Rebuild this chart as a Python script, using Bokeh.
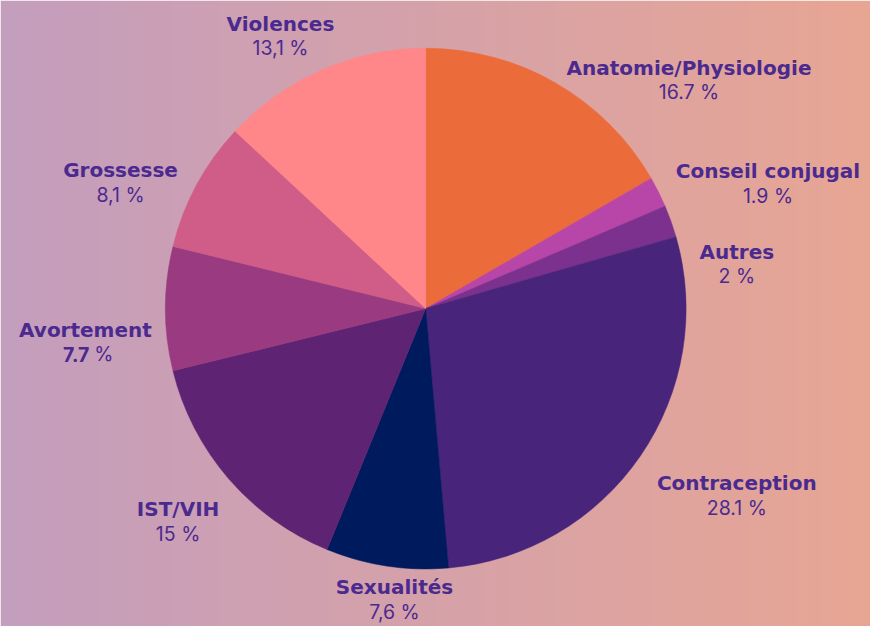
import numpy as np
from bokeh.plotting import figure
from bokeh.models import Range1d, ColumnDataSource
from bokeh.embed import file_html
from bokeh.resources import INLINE
from bokeh.core.properties import value

# ---- data ----
categories = ["Anatomie/Physiologie", "Conseil conjugal", "Autres", "Contraception",
              "Sexualités", "IST/VIH", "Avortement", "Grossesse", "Violences"]
shares = [16.7, 1.9, 2.0, 28.1, 7.6, 15.0, 7.7, 8.1, 13.1]
share_labels = ["16.7 %", "1.9 %", "2 %", "28.1 %", "7,6 %", "15 %", "7.7 %", "8,1 %", "13,1 %"]
slice_colors = ["#ec6b3a", "#b845a8", "#7b318d", "#48247a", "#001a5e",
                "#5e2473", "#9a3a80", "#d05c88", "#ff8789"]

# ---- layout (label anchors in reference pixels) ----
label_x = [703, 784, 752, 752, 401, 179, 84, 120, 284]
label_y = [69, 175, 258, 495, 602, 522, 338, 174, 24]
REF_W, REF_H = 886, 642
W, H = 870, 626
S = H / REF_H                       # pixels per reference unit
span_x = W / S
x0 = (REF_W - span_x) / 2
cx, cy, R = 433, 316, 267
TXT = "#4b2a8f"
NAME_FONT = value("DejaVu Sans")
VAL_FONT = value("Inter")
NAME_SIZE = f"{20.5 * S:.1f}px"
VAL_SIZE = f"{20 * S:.1f}px"
GAP = 25

def fy(py):
    return REF_H - py

p = figure(width=W, height=H, output_backend="svg", toolbar_location=None,
           x_range=Range1d(x0, x0 + span_x), y_range=Range1d(0, REF_H),
           min_border=0)
p.axis.visible = False
p.grid.visible = False
p.outline_line_color = None
p.border_fill_color = "#d6a2ab"

# background gradient
cols = np.linspace(0, 1, W)
left = np.array([196, 158, 190])
right = np.array([232, 166, 148])
rgb = (left[None, :] * (1 - cols[:, None]) + right[None, :] * cols[:, None]).astype(np.uint8)
img = np.empty((2, W), dtype=np.uint32)
view = img.view(dtype=np.uint8).reshape((2, W, 4))
for r in range(2):
    view[r, :, 0] = rgb[:, 0]
    view[r, :, 1] = rgb[:, 1]
    view[r, :, 2] = rgb[:, 2]
    view[r, :, 3] = 255
p.image_rgba(image=[img], x=x0, y=0, dw=span_x, dh=REF_H)

# wedges
total = sum(shares)
fr = np.array(shares) / total
cum = np.concatenate([[0], np.cumsum(fr)])
start = np.pi / 2 - 2 * np.pi * cum[:-1]
end = np.pi / 2 - 2 * np.pi * cum[1:]
src = ColumnDataSource(dict(start=start, end=end, color=slice_colors, cat=categories))
p.wedge(x=cx, y=fy(cy), radius=R, start_angle="start", end_angle="end",
        direction="clock", fill_color="color", line_color="color", line_width=0.5,
        source=src)

# labels
name_src = ColumnDataSource(dict(x=label_x, y=[fy(v) for v in label_y], t=categories))
p.text(x="x", y="y", text="t", source=name_src, text_align="center",
       text_baseline="middle", text_font=NAME_FONT, text_font_style="bold",
       text_font_size=NAME_SIZE, text_color=TXT)

vx, vy, vt = [], [], []
for i, c in enumerate(categories):
    if c == "Avortement":
        num, pct = share_labels[i].split(" ")
        p.text(x=[label_x[i] + 4], y=[fy(label_y[i] + GAP)], text=[num], text_align="right",
               text_baseline="middle", text_font=VAL_FONT, text_font_style="bold",
               text_font_size=VAL_SIZE, text_color=TXT)
        p.text(x=[label_x[i] + 9], y=[fy(label_y[i] + GAP)], text=[pct], text_align="left",
               text_baseline="middle", text_font=VAL_FONT, text_font_size=VAL_SIZE,
               text_color=TXT)
    else:
        vx.append(label_x[i])
        vy.append(fy(label_y[i] + GAP))
        vt.append(share_labels[i])
val_src = ColumnDataSource(dict(x=vx, y=vy, t=vt))
p.text(x="x", y="y", text="t", source=val_src, text_align="center",
       text_baseline="middle", text_font=VAL_FONT, text_font_size=VAL_SIZE, text_color=TXT)

open("out.html", "w").write(file_html(p, INLINE))
